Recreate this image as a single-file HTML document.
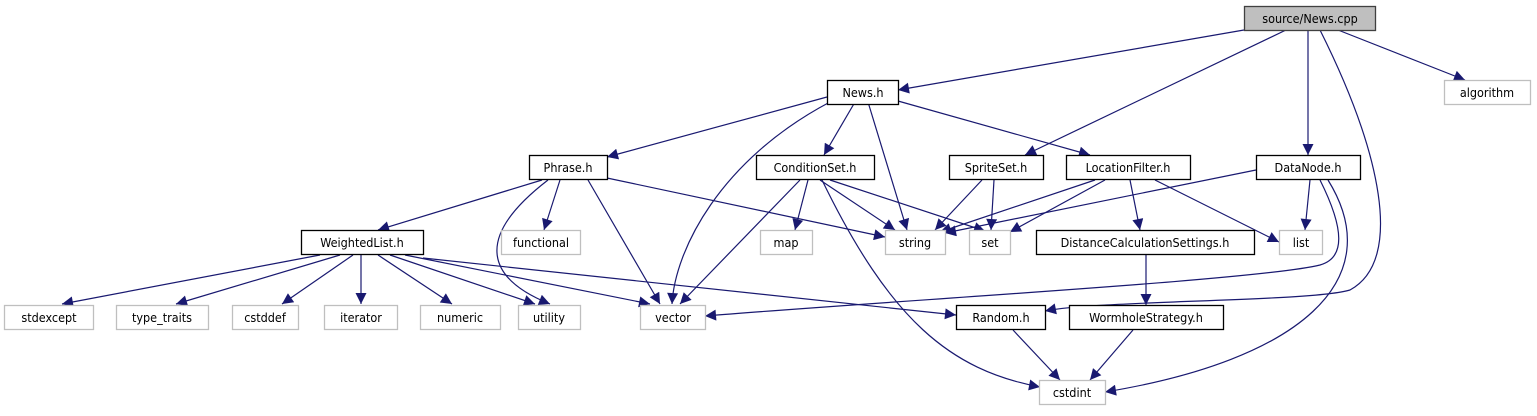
<!DOCTYPE html>
<html><head><meta charset="utf-8"><style>
html,body{margin:0;padding:0;background:#fff;}
svg text{font-family:"DejaVu Sans Condensed","DejaVu Sans","Liberation Sans",sans-serif;font-size:12.5px;fill:#000;text-anchor:middle;}
</style></head><body>
<svg width="1537" height="411" viewBox="0 0 1537 411" xmlns="http://www.w3.org/2000/svg">
<defs><marker id="a" viewBox="0 0 10 10" refX="10" refY="5" markerWidth="12" markerHeight="11" markerUnits="userSpaceOnUse" orient="auto"><path d="M0,0 L10,5 L0,10 z" fill="#191970"/></marker></defs>
<g fill="none" stroke="#191970" stroke-width="1.2" marker-end="url(#a)">
<path d="M1244,30 L898,90"/>
<path d="M1286,30 L1025,155"/>
<path d="M1308,30 L1308,155"/>
<path d="M1320,30 C1380,150 1405,260 1350,290 C1310,302 1100,300 1045,311"/>
<path d="M1338,30 L1465,80"/>
<path d="M827,97 L607,157"/>
<path d="M855,102 L824,155"/>
<path d="M868,102 L907,230"/>
<path d="M830,102 C720,160 675,250 672,304"/>
<path d="M898,101 L1090,155"/>
<path d="M542,180 L378,230"/>
<path d="M548,180 C470,240 490,280 550,304"/>
<path d="M560,180 L544,230"/>
<path d="M588,180 L660,304"/>
<path d="M607,178 L885,237"/>
<path d="M808,180 L795,230"/>
<path d="M820,180 L895,230"/>
<path d="M830,180 L985,231"/>
<path d="M800,180 L680,304"/>
<path d="M822,180 C890,320 950,370 1040,387"/>
<path d="M982,180 L935,230"/>
<path d="M994,180 L991,230"/>
<path d="M1095,180 L940,232"/>
<path d="M1105,180 L1010,232"/>
<path d="M1130,180 L1140,230"/>
<path d="M1155,180 L1279,242"/>
<path d="M1256,170 L945,233"/>
<path d="M1310,180 L1305,230"/>
<path d="M1320,180 C1345,230 1345,258 1320,265 C1260,280 900,300 705,316"/>
<path d="M1328,180 C1390,280 1300,360 1105,392"/>
<path d="M1146,255 L1146,305"/>
<path d="M1013,330 L1060,380"/>
<path d="M1133,330 L1090,380"/>
<path d="M320,255 L62,304"/>
<path d="M340,255 L176,304"/>
<path d="M353,255 L282,304"/>
<path d="M361,255 L361,304"/>
<path d="M378,255 L452,304"/>
<path d="M390,255 L535,304"/>
<path d="M405,255 L650,304"/>
<path d="M423,258 L956,315"/>
</g>
<g stroke-width="1.3">
<rect x="1244.5" y="6.5" width="131" height="24" fill="#bfbfbf" stroke="#404040"/>
<rect x="827.5" y="80.5" width="71" height="24" fill="#fff" stroke="#000"/>
<rect x="1444.5" y="80.5" width="86" height="24" fill="#fff" stroke="#bfbfbf"/>
<rect x="529.5" y="155.5" width="78" height="24" fill="#fff" stroke="#000"/>
<rect x="756.5" y="155.5" width="118" height="24" fill="#fff" stroke="#000"/>
<rect x="949.5" y="155.5" width="94" height="24" fill="#fff" stroke="#000"/>
<rect x="1066.5" y="155.5" width="124" height="24" fill="#fff" stroke="#000"/>
<rect x="1256.5" y="155.5" width="104" height="24" fill="#fff" stroke="#000"/>
<rect x="301.5" y="230.5" width="122" height="24" fill="#fff" stroke="#000"/>
<rect x="501.5" y="230.5" width="79" height="24" fill="#fff" stroke="#bfbfbf"/>
<rect x="760.5" y="230.5" width="52" height="24" fill="#fff" stroke="#bfbfbf"/>
<rect x="885.5" y="230.5" width="60" height="24" fill="#fff" stroke="#bfbfbf"/>
<rect x="969.5" y="230.5" width="41" height="24" fill="#fff" stroke="#bfbfbf"/>
<rect x="1036.5" y="230.5" width="218" height="24" fill="#fff" stroke="#000"/>
<rect x="1279.5" y="230.5" width="43" height="24" fill="#fff" stroke="#bfbfbf"/>
<rect x="4.5" y="305.5" width="89" height="24" fill="#fff" stroke="#bfbfbf"/>
<rect x="116.5" y="305.5" width="92" height="24" fill="#fff" stroke="#bfbfbf"/>
<rect x="232.5" y="305.5" width="66" height="24" fill="#fff" stroke="#bfbfbf"/>
<rect x="324.5" y="305.5" width="73" height="24" fill="#fff" stroke="#bfbfbf"/>
<rect x="420.5" y="305.5" width="80" height="24" fill="#fff" stroke="#bfbfbf"/>
<rect x="518.5" y="305.5" width="62" height="24" fill="#fff" stroke="#bfbfbf"/>
<rect x="640.5" y="305.5" width="65" height="24" fill="#fff" stroke="#bfbfbf"/>
<rect x="956.5" y="305.5" width="89" height="24" fill="#fff" stroke="#000"/>
<rect x="1069.5" y="305.5" width="154" height="24" fill="#fff" stroke="#000"/>
<rect x="1039.5" y="380.5" width="66" height="24" fill="#fff" stroke="#bfbfbf"/>
</g>
<g>
<text x="1310" y="23">source/News.cpp</text>
<text x="863" y="97">News.h</text>
<text x="1487" y="97">algorithm</text>
<text x="568" y="172">Phrase.h</text>
<text x="815" y="172">ConditionSet.h</text>
<text x="996" y="172">SpriteSet.h</text>
<text x="1128" y="172">LocationFilter.h</text>
<text x="1308" y="172">DataNode.h</text>
<text x="362" y="247">WeightedList.h</text>
<text x="541" y="247">functional</text>
<text x="786" y="247">map</text>
<text x="915" y="247">string</text>
<text x="990" y="247">set</text>
<text x="1145" y="247">DistanceCalculationSettings.h</text>
<text x="1301" y="247">list</text>
<text x="49" y="322">stdexcept</text>
<text x="162" y="322">type_traits</text>
<text x="265" y="322">cstddef</text>
<text x="361" y="322">iterator</text>
<text x="460" y="322">numeric</text>
<text x="549" y="322">utility</text>
<text x="673" y="322">vector</text>
<text x="1001" y="322">Random.h</text>
<text x="1146" y="322">WormholeStrategy.h</text>
<text x="1072" y="397">cstdint</text>
</g>
</svg>
</body></html>
